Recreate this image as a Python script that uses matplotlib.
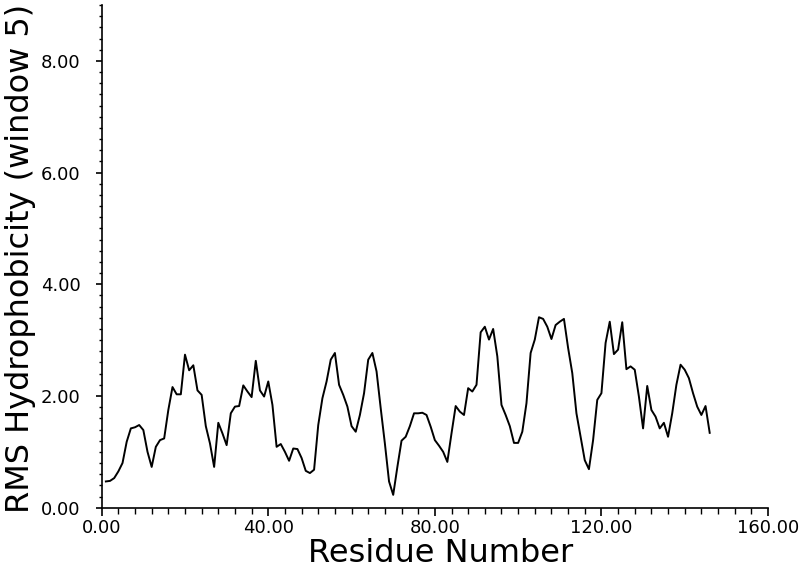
import matplotlib
matplotlib.use("Agg")
import matplotlib.pyplot as plt
from matplotlib.ticker import MultipleLocator, FormatStrFormatter

# residue number and windowed RMS hydrophobicity
residue = list(range(1, 147))
rms = [0.47, 0.48, 0.53, 0.65, 0.80, 1.18, 1.42, 1.44, 1.48, 1.39,
       1.00, 0.73, 1.09, 1.21, 1.24, 1.75, 2.16, 2.03, 2.03, 2.74,
       2.46, 2.55, 2.10, 2.02, 1.46, 1.15, 0.73, 1.52, 1.33, 1.12,
       1.69, 1.81, 1.82, 2.19, 2.08, 1.98, 2.63, 2.10, 1.99, 2.26,
       1.84, 1.09, 1.14, 1.00, 0.84, 1.06, 1.05, 0.89, 0.66, 0.62,
       0.68, 1.48, 1.96, 2.26, 2.65, 2.77, 2.20, 2.02, 1.81, 1.46,
       1.36, 1.66, 2.05, 2.65, 2.77, 2.44, 1.78, 1.15, 0.47, 0.23,
       0.73, 1.20, 1.27, 1.46, 1.69, 1.69, 1.70, 1.66, 1.45, 1.21,
       1.11, 1.00, 0.82, 1.33, 1.82, 1.72, 1.66, 2.14, 2.08, 2.20,
       3.14, 3.24, 3.01, 3.20, 2.71, 1.84, 1.66, 1.46, 1.16, 1.16,
       1.36, 1.87, 2.77, 3.01, 3.41, 3.38, 3.24, 3.02, 3.27, 3.33,
       3.38, 2.86, 2.41, 1.69, 1.27, 0.85, 0.69, 1.21, 1.93, 2.05,
       2.95, 3.33, 2.75, 2.83, 3.32, 2.48, 2.53, 2.47, 1.99, 1.42,
       2.18, 1.75, 1.63, 1.42, 1.52, 1.27, 1.69, 2.20, 2.56, 2.47,
       2.32, 2.05, 1.81, 1.66, 1.82, 1.34]

W, H = 801, 568
fig = plt.figure(figsize=(W / 100, H / 100), dpi=100)
ax = fig.add_axes([101.7 / W, 1 - 507.7 / H, (768 - 101.7) / W, (507.7 - 5) / H])

ax.plot(residue, rms, color="black", lw=1.4)

ax.set_xlim(0, 160)
ax.set_ylim(0, 9.0)
ax.spines["top"].set_visible(False)
ax.spines["right"].set_visible(False)
for s in ("left", "bottom"):
    ax.spines[s].set_linewidth(1.2)

ax.xaxis.set_major_locator(MultipleLocator(40))
ax.xaxis.set_minor_locator(MultipleLocator(4))
ax.yaxis.set_major_locator(MultipleLocator(2))
ax.yaxis.set_minor_locator(MultipleLocator(0.2))
ax.xaxis.set_major_formatter(FormatStrFormatter("%.2f"))
ax.yaxis.set_major_formatter(FormatStrFormatter("%.2f"))

ax.tick_params(axis="x", which="major", length=6, width=1.2, labelsize=13, pad=2)
ax.tick_params(axis="x", which="minor", length=4, width=1.0)
ax.tick_params(axis="y", which="major", length=4, width=1.2, labelsize=13, pad=11)
ax.tick_params(axis="y", which="minor", length=2.5, width=1.0)

fig.text(441 / W, 1 - 562 / H, "Residue Number", fontsize=23,
         ha="center", va="baseline")
fig.text(21 / W, 1 - 258 / H, "RMS Hydrophobicity (window 5)", fontsize=23,
         rotation=90, ha="center", va="center")

fig.savefig("out.png", dpi=100)
